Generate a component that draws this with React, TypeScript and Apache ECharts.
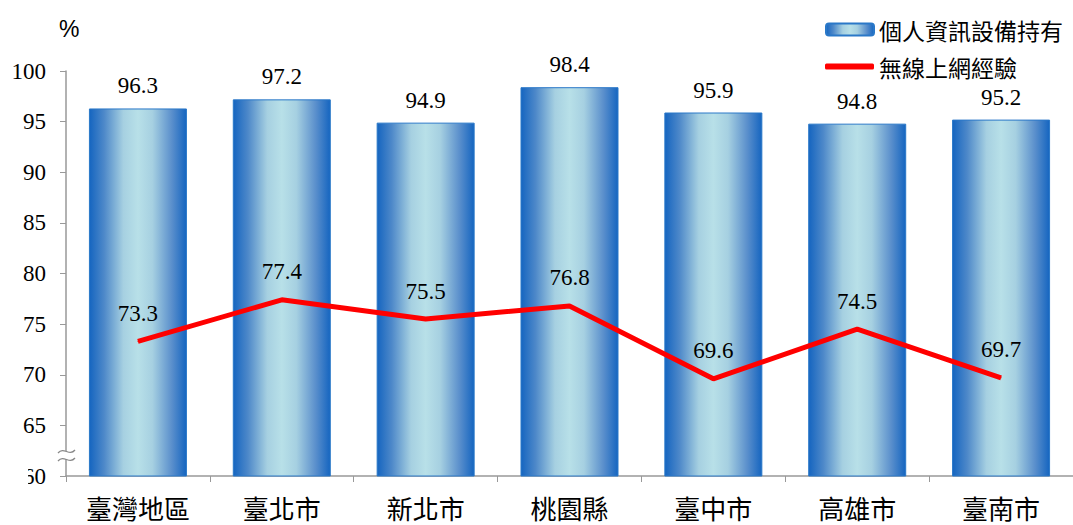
import React, { useEffect, useRef } from "react";
import * as echarts from "echarts";

const categories = ["臺灣地區", "臺北市", "新北市", "桃園縣", "臺中市", "高雄市", "臺南市"];
const deviceValues = [96.3, 97.2, 94.9, 98.4, 95.9, 94.8, 95.2];
const wirelessValues = [73.3, 77.4, 75.5, 76.8, 69.6, 74.5, 69.7];
const seriesNames = ["個人資訊設備持有", "無線上網經驗"];

export default function App() {
  const ref = useRef<HTMLDivElement>(null);
  useEffect(() => {
    if (!ref.current) return;
    const chart = echarts.init(ref.current, null, { renderer: "svg" });
    const barGrad = new echarts.graphic.LinearGradient(0, 0, 1, 0, [
      { offset: 0, color: "#1565c0" },
      { offset: 0.15, color: "#4d88c9" },
      { offset: 0.35, color: "#a6d0e1" },
      { offset: 0.5, color: "#b8e0e8" },
      { offset: 0.65, color: "#a6d0e1" },
      { offset: 0.85, color: "#5a8fcc" },
      { offset: 1, color: "#1565c0" },
    ]);
    const serif = "Liberation Serif";
    const cjk = "Noto Sans CJK TC";
    chart.setOption({
      animation: false,
      textStyle: { fontFamily: serif },
      grid: { left: 66, top: 71, height: 405, width: 1015 },
      legend: [
        {
          data: [seriesNames[0]],
          left: 820,
          top: 13,
          itemWidth: 48,
          itemHeight: 12,
          textStyle: { fontSize: 23, fontFamily: cjk, color: "#000" },
        },
        {
          data: [{ name: seriesNames[1], icon: "roundRect" }],
          left: 820,
          top: 50,
          itemWidth: 49,
          itemHeight: 6,
          textStyle: { fontSize: 23, fontFamily: cjk, color: "#000" },
        },
      ],
      xAxis: {
        type: "category",
        data: categories,
        axisLine: { lineStyle: { color: "#999", width: 1.5 } },
        axisTick: { show: true, length: 6, lineStyle: { color: "#999" } },
        axisLabel: { fontSize: 26, fontFamily: cjk, color: "#000", margin: 18 },
      },
      yAxis: {
        type: "value",
        min: 60,
        max: 100,
        interval: 5,
        splitLine: { show: false },
        axisLine: { show: true, lineStyle: { color: "#999", width: 1.5 } },
        axisTick: { show: true, length: 6, lineStyle: { color: "#999" } },
        axisLabel: {
          fontSize: 23,
          fontFamily: serif,
          color: "#000",
          margin: 20,
          textStyle: { fontFamily: serif },
        },
      },
      graphic: [
        {
          type: "text",
          left: 59,
          top: 17,
          style: { text: "%", fontSize: 23, fontFamily: "Liberation Sans", fill: "#000" },
        },
        {
          type: "rect",
          shape: { x: 0, y: 462, width: 28, height: 28 },
          style: { fill: "#fff" },
          z: 100,
        },
        {
          type: "rect",
          shape: { x: 62, y: 451, width: 8, height: 8 },
          style: { fill: "#fff" },
          z: 100,
        },
        {
          type: "bezierCurve",
          shape: { x1: 58, y1: 453, x2: 75, y2: 450, cpx1: 64, cpy1: 446, cpx2: 69, cpy2: 457 },
          style: { stroke: "#888", lineWidth: 1.3, fill: "none" },
          z: 101,
        },
        {
          type: "bezierCurve",
          shape: { x1: 58, y1: 461, x2: 75, y2: 458, cpx1: 64, cpy1: 454, cpx2: 69, cpy2: 465 },
          style: { stroke: "#888", lineWidth: 1.3, fill: "none" },
          z: 101,
        },
      ],
      series: [
        {
          name: seriesNames[0],
          type: "bar",
          data: deviceValues,
          barWidth: 98,
          itemStyle: { color: barGrad, borderColor: "#2a78c8", borderWidth: 1 },
          label: {
            show: true,
            position: "top",
            distance: 11,
            fontSize: 23,
            fontFamily: serif,
            color: "#000",
          },
        },
        {
          name: seriesNames[1],
          type: "line",
          data: wirelessValues,
          symbol: "circle",
          symbolSize: 1,
          showSymbol: true,
          lineStyle: { color: "#ff0000", width: 5 },
          itemStyle: { color: "#ff0000" },
          z: 5,
          label: {
            show: true,
            position: "top",
            distance: 16,
            fontSize: 23,
            fontFamily: serif,
            color: "#000",
          },
        },
      ],
    });
    return () => chart.dispose();
  }, []);
  return (
    <div
      ref={ref}
      style={{ position: "fixed", left: 0, top: 0, width: 1073, height: 525, background: "#fff" }}
    />
  );
}
